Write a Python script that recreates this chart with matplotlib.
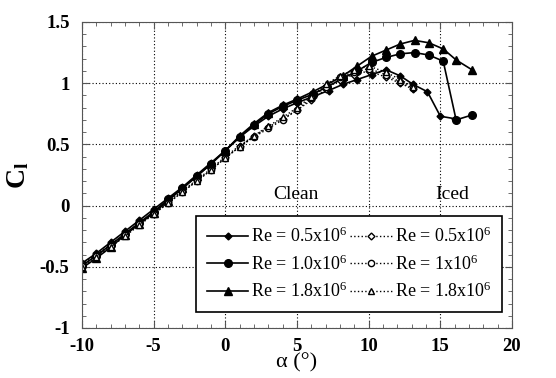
import matplotlib
matplotlib.use("Agg")
import matplotlib.pyplot as plt
from matplotlib.ticker import MultipleLocator

# angle of attack (deg) and lift coefficient
alpha_c05 = [-10, -9, -8, -7, -6, -5, -4, -3, -2, -1, 0, 1, 2, 3, 4, 5,
             6.1, 7.2, 8.2, 9.2, 10.2, 11.2, 12.2, 13.1, 14.1, 15.0, 16.0]
cl_c05 = [-0.47, -0.39, -0.30, -0.21, -0.12, -0.03, 0.06, 0.15, 0.25, 0.35, 0.45,
          0.56, 0.65, 0.73, 0.79, 0.84, 0.89, 0.94, 0.99, 1.03, 1.07, 1.11, 1.06,
          0.99, 0.93, 0.73, 0.71]

alpha_c10 = [-10, -9, -8, -7, -6, -5, -4, -3, -2, -1, 0, 1, 2, 3, 4, 5,
             6.1, 7.1, 8.2, 9.2, 10.2, 11.2, 12.2, 13.2, 14.2, 15.2, 16.1, 17.2]
cl_c10 = [-0.49, -0.41, -0.32, -0.23, -0.14, -0.05, 0.05, 0.14, 0.24, 0.34, 0.45,
          0.56, 0.66, 0.75, 0.81, 0.86, 0.91, 0.97, 1.04, 1.10, 1.17, 1.21, 1.24,
          1.25, 1.23, 1.18, 0.70, 0.74]

alpha_c18 = alpha_c10
cl_c18 = [-0.51, -0.43, -0.34, -0.24, -0.15, -0.06, 0.04, 0.14, 0.24, 0.34, 0.45,
          0.57, 0.67, 0.76, 0.82, 0.87, 0.93, 0.99, 1.06, 1.14, 1.22, 1.27, 1.32,
          1.35, 1.33, 1.28, 1.19, 1.11]

alpha_iced = [-10, -9, -8, -7, -6, -5, -4, -3, -2, -1, 0, 1, 2, 3, 4, 5,
              6, 7, 8, 9, 10, 11.2, 12.2, 13.1]
cl_i05 = [-0.48, -0.40, -0.32, -0.23, -0.14, -0.06, 0.03, 0.12, 0.21, 0.30, 0.40,
          0.49, 0.57, 0.64, 0.71, 0.78, 0.86, 0.95, 1.03, 1.07, 1.10, 1.05, 1.00, 0.95]
cl_i10 = [-0.49, -0.41, -0.33, -0.24, -0.15, -0.07, 0.02, 0.11, 0.20, 0.29, 0.39,
          0.48, 0.56, 0.63, 0.70, 0.78, 0.88, 0.97, 1.05, 1.09, 1.12, 1.07, 1.01, 0.96]
cl_i18 = [-0.50, -0.42, -0.34, -0.25, -0.16, -0.07, 0.02, 0.11, 0.20, 0.29, 0.39,
          0.48, 0.57, 0.65, 0.72, 0.80, 0.89, 0.99, 1.06, 1.11, 1.14, 1.09, 1.03, 0.97]

labels_clean = ["Re = 0.5x10$^{6}$", "Re = 1.0x10$^{6}$", "Re = 1.8x10$^{6}$"]
labels_iced = ["Re = 0.5x10$^{6}$", "Re = 1x10$^{6}$", "Re = 1.8x10$^{6}$"]
xticks = [-10, -5, 0, 5, 10, 15, 20]
yticks = [-1, -0.5, 0, 0.5, 1, 1.5]

plt.rcParams["font.family"] = "Liberation Serif"
plt.rcParams["mathtext.fontset"] = "custom"
plt.rcParams["mathtext.rm"] = "Liberation Serif"
plt.rcParams["mathtext.it"] = "Liberation Serif:italic"
plt.rcParams["mathtext.bf"] = "Liberation Serif:bold"

fig = plt.figure(figsize=(5.56, 3.78), dpi=100)
ax = fig.add_axes([0.1475, 0.1323, 0.7734, 0.8095])

ax.plot(alpha_c05, cl_c05, "k-", marker="D", ms=3.5, lw=1.2, label=labels_clean[0])
ax.plot(alpha_c10, cl_c10, "k-", marker="o", ms=5.5, lw=1.2, label=labels_clean[1])
ax.plot(alpha_c18, cl_c18, "k-", marker="^", ms=6, lw=1.2, label=labels_clean[2])
ax.plot(alpha_iced, cl_i05, "k:", marker="D", ms=3.5, mfc="white", lw=1.0, label=labels_iced[0])
ax.plot(alpha_iced, cl_i10, "k:", marker="o", ms=4.5, mfc="white", lw=1.0, label=labels_iced[1])
ax.plot(alpha_iced, cl_i18, "k:", marker="^", ms=5, mfc="white", lw=1.0, label=labels_iced[2])

ax.set_xlim(-10, 20)
ax.set_ylim(-1, 1.5)
ax.set_xticks(xticks)
ax.set_xticklabels([str(t) for t in xticks])
ax.set_yticks(yticks)
ax.set_yticklabels(["%g" % t for t in yticks])
ax.xaxis.set_minor_locator(MultipleLocator(1))
ax.yaxis.set_minor_locator(MultipleLocator(0.1))
ax.tick_params(which="both", direction="in", top=True, right=True, color="#555555")
ax.tick_params(which="major", length=5, labelsize=13.5)
ax.tick_params(axis="x", which="major", pad=7)
ax.tick_params(axis="y", which="major", pad=9)
ax.tick_params(which="minor", length=3)
for lab in ax.get_xticklabels() + ax.get_yticklabels():
    lab.set_fontweight("bold")
ax.grid(True, which="major", color="black", linestyle=(0, (1, 2)), lw=0.8)
for s in ax.spines.values():
    s.set_color("#555555")

ax.set_xlabel("α (°)", fontsize=16, labelpad=-1)
ax.set_ylabel(r"$\mathbf{C}_\mathbf{l}$", fontsize=20, labelpad=6)

ax.text(4.9, 0.02, "Clean", fontsize=14, ha="center", va="bottom")
ax.text(15.8, 0.02, "Iced", fontsize=14, ha="center", va="bottom")

leg = ax.legend(ncol=2, loc="lower left", bbox_to_anchor=(0.265, 0.052, 0.712, 0.34),
                mode="expand", fontsize=13, frameon=True, fancybox=False,
                edgecolor="black", framealpha=1, handlelength=2.3, handletextpad=0.15,
                labelspacing=0.45, borderpad=0.6, columnspacing=0.6, borderaxespad=0)
leg.get_frame().set_linewidth(1.2)

fig.savefig("out.png", dpi=100)
